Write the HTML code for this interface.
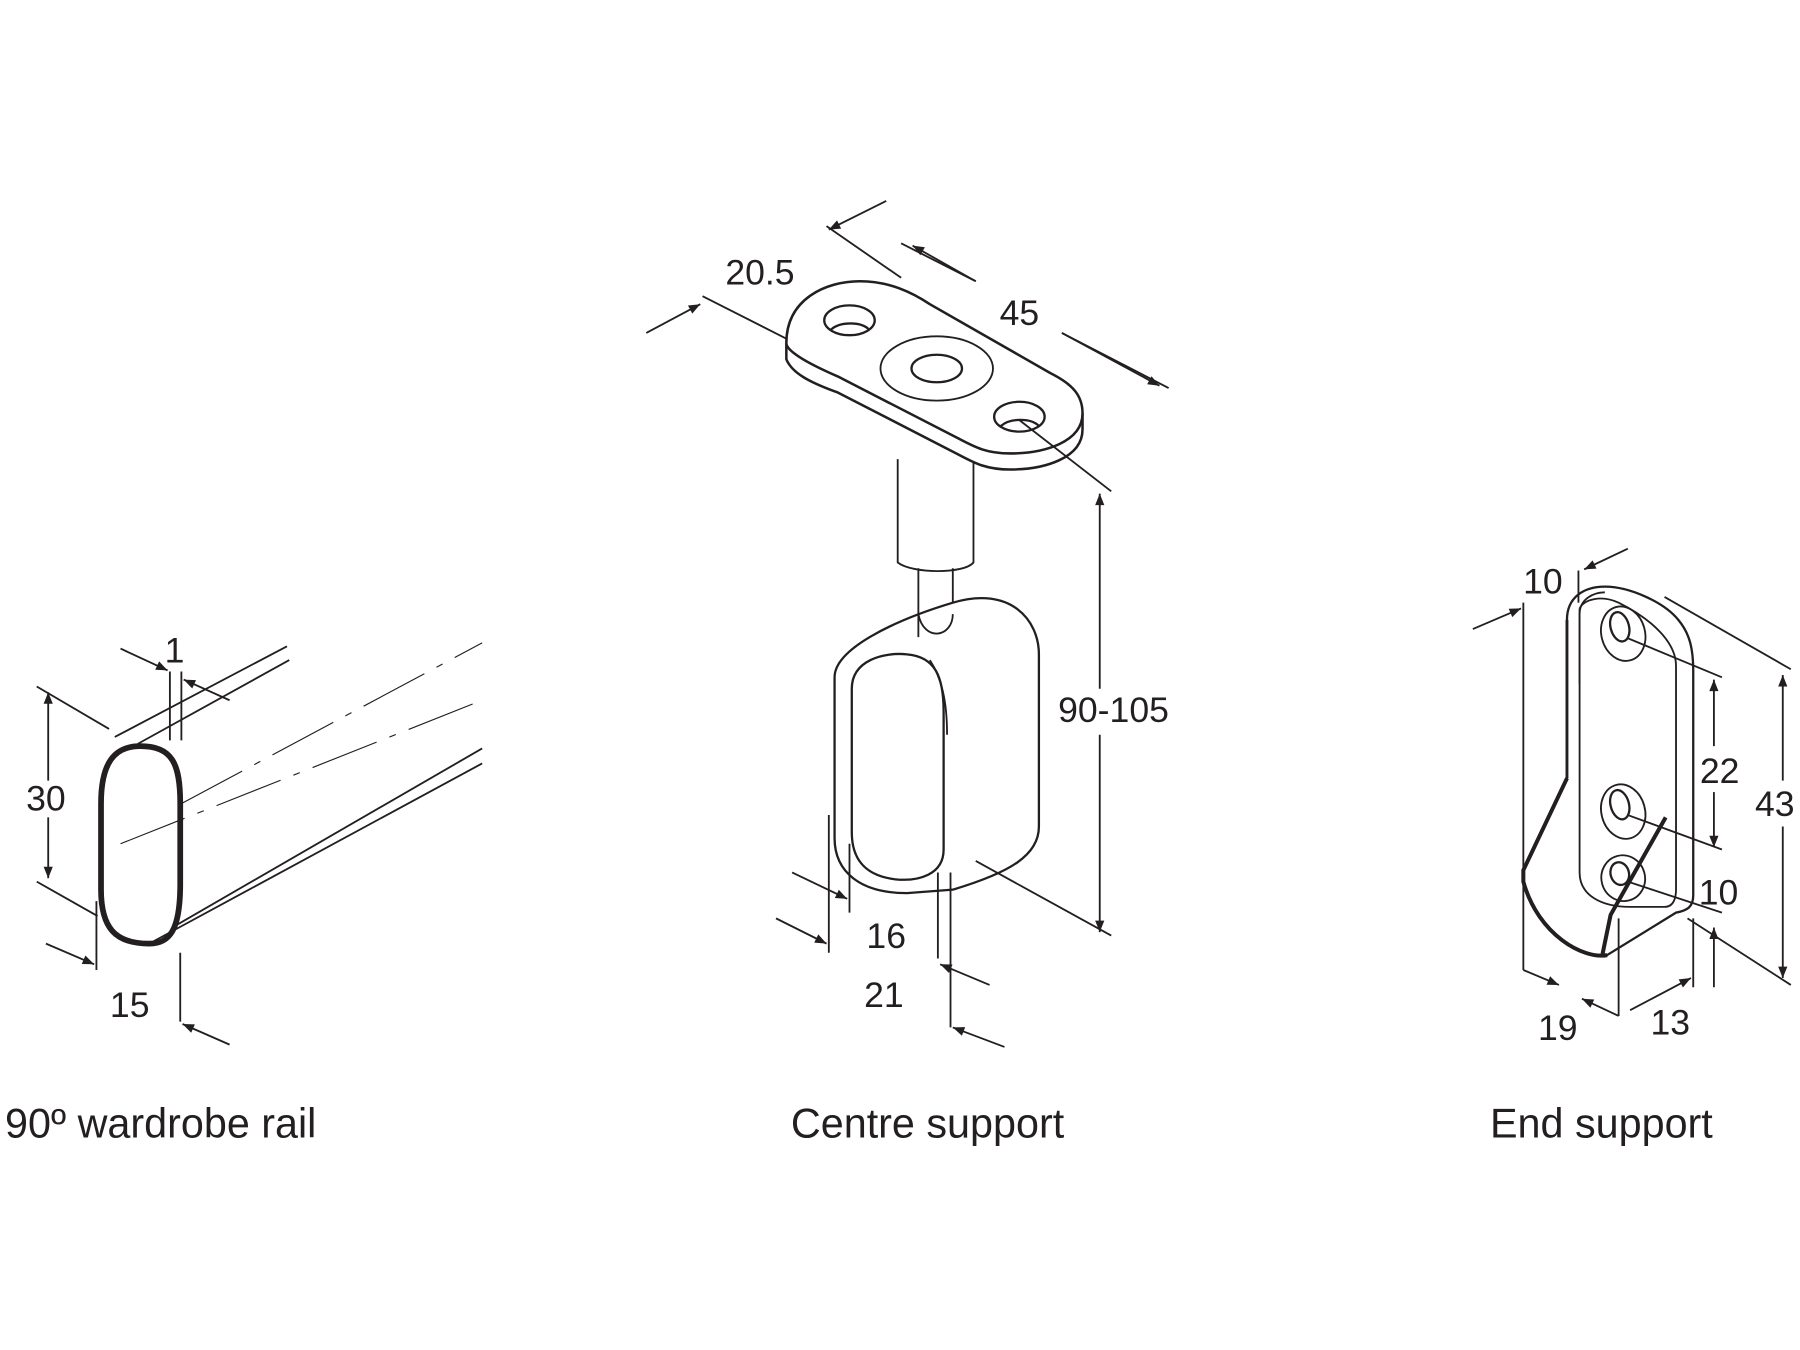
<!DOCTYPE html>
<html><head><meta charset="utf-8"><style>
html,body{margin:0;padding:0;background:#fff;}
svg{display:block}
text{font-family:"Liberation Sans",sans-serif;fill:#231f20;}
</style></head><body>
<svg width="1800" height="1350" viewBox="0 0 1568 1176" xmlns="http://www.w3.org/2000/svg">
<defs>
<marker id="a" viewBox="0 0 10 10" refX="10" refY="5" markerWidth="14" markerHeight="10" orient="auto-start-reverse" markerUnits="userSpaceOnUse"><path d="M0,1 L10,5 L0,9 z" fill="#231f20"/></marker>
</defs>
<g stroke="#231f20" fill="none" stroke-width="1.6">
<!-- RAIL -->
<path d="M122,650 C150,650 157,665 157,700 L157,770 C157,810 148,822 130,822 C100,822 88,808 88,775 L88,700 C88,664 100,650 122,650 Z" stroke-width="5"/>
<path d="M100,642 L250,563"/>
<path d="M120,648 L252,575"/>
<path d="M130,822 L420,665"/>
<path d="M150,808 L420,652"/>
<path d="M158,700 L420,560" stroke-dasharray="60,12,6,12" stroke-width="1"/>
<path d="M105,735 L420,610" stroke-dasharray="60,12,6,12" stroke-width="1"/>
<path d="M32,598 L95,635"/><path d="M32,768 L85,798"/>
<path d="M42,680 L42,603" marker-end="url(#a)"/><path d="M42,712 L42,765" marker-end="url(#a)"/>
<path d="M148,585 L148,645"/><path d="M158,585 L158,645"/>
<path d="M105,565 L146,584" marker-end="url(#a)"/><path d="M200,610 L160,592" marker-end="url(#a)"/>
<path d="M84,785 L84,845"/><path d="M157,830 L157,890"/>
<path d="M40,822 L82,840" marker-end="url(#a)"/><path d="M200,910 L159,892" marker-end="url(#a)"/>

<!-- CENTRE SUPPORT stem -->
<path d="M782,400 L782,490 C795,500 840,500 848,490 L848,400"/>
<path d="M800,495 L800,555"/><path d="M830,495 L830,550"/>
<!-- plate -->
<path d="M685,299 L685,313 C690,325 705,333 730,342 L835,396 C850,404 860,409 880,409 C910,409 943,399 943,374 L943,360" fill="#fff" stroke-width="2.2"/>
<path d="M685,299 C685,260 720,245 749,245 C775,245 795,255 810,265 L915,325 C935,335 943,345 943,360 C943,385 910,395 880,395 C860,395 850,390 835,382 L730,328 C700,315 685,305 685,299 Z" fill="#fff" stroke-width="2.2"/>
<ellipse cx="740" cy="279" rx="22" ry="13" stroke-width="2"/>
<path d="M724,287 C732,280 750,280 757,287" stroke-width="2"/>
<ellipse cx="816" cy="321" rx="49" ry="28"/>
<ellipse cx="816" cy="321" rx="22" ry="12" stroke-width="2"/>
<ellipse cx="888" cy="363" rx="22" ry="13" stroke-width="2"/>
<path d="M872,371 C880,364 898,364 905,371" stroke-width="2"/>
<!-- ring -->
<path d="M727,590 C727,565 780,540 830,525 C880,510 905,540 905,570 L905,720 C905,745 880,760 830,775 L790,778 C750,778 727,760 727,730 Z" fill="#fff" stroke-width="2"/>
<path d="M800,555 L800,535 C805,560 830,555 830,535"/>
<path d="M742,600 C742,575 770,568 790,570 C815,572 822,590 822,620 L822,740 C822,762 800,768 780,766 C755,763 742,750 742,725 Z" stroke-width="2"/>
<path d="M810,575 C820,590 825,610 825,640"/>
<!-- dims centre -->
<path d="M612,258 L685,295"/><path d="M720,197 L785,242"/>
<path d="M563,290 L610,265" marker-end="url(#a)"/><path d="M772,175 L722,200" marker-end="url(#a)"/>
<path d="M785,212 L850,245"/><path d="M925,290 L1018,338"/>
<path d="M850,245 L795,214" marker-end="url(#a)"/><path d="M925,290 L1010,336" marker-end="url(#a)"/>
<path d="M888,366 L968,428"/><path d="M850,750 L968,815"/>
<path d="M958,600 L958,430" marker-end="url(#a)"/><path d="M958,640 L958,812" marker-end="url(#a)"/>
<path d="M722,710 L722,830"/><path d="M740,735 L740,795"/>
<path d="M690,760 L738,783" marker-end="url(#a)"/><path d="M676,800 L720,822" marker-end="url(#a)"/>
<path d="M817,760 L817,835"/><path d="M828,760 L828,895"/>
<path d="M862,858 L819,840" marker-end="url(#a)"/><path d="M875,912 L830,895" marker-end="url(#a)"/>

<!-- END SUPPORT -->
<path d="M1365,540 C1365,520 1380,511 1398,511 C1420,511 1450,525 1462,540 C1472,552 1475,565 1475,585 L1475,780 C1475,790 1470,793 1460,795 L1400,832 C1380,836 1340,815 1327,768 L1327,758 L1365,678 Z" fill="#fff" stroke-width="2"/>
<path d="M1376,596 L1376,535 C1376,522 1388,516 1398,516"/>
<path d="M1376,530 L1376,760 C1376,780 1395,790 1420,790 L1450,790 C1458,790 1460,782 1460,775 L1460,580 C1460,560 1440,540 1410,525 C1395,518 1380,522 1376,530"/>
<ellipse cx="1414" cy="552" rx="19" ry="24" transform="rotate(-15 1414 552)"/><ellipse cx="1411" cy="546" rx="8" ry="13" transform="rotate(-15 1411 546)" stroke-width="2"/>
<ellipse cx="1414" cy="707" rx="19" ry="24" transform="rotate(-15 1414 707)"/><ellipse cx="1411" cy="701" rx="8" ry="13" transform="rotate(-15 1411 701)" stroke-width="2"/>
<ellipse cx="1414" cy="765" rx="19" ry="20" transform="rotate(-15 1414 765)"/><ellipse cx="1411" cy="761" rx="8" ry="10" transform="rotate(-15 1411 761)" stroke-width="2"/>
<path d="M1365,678 L1327,758 L1327,768 C1340,815 1380,836 1400,832" stroke-width="3.5"/>
<path d="M1451,712 L1403,797 L1396,831" stroke-width="3.5"/>
<path d="M1365,540 L1365,678" stroke-width="2.5"/>
<!-- dims end -->
<path d="M1327,525 L1327,845"/>
<path d="M1283,548 L1325,530" marker-end="url(#a)"/><path d="M1418,478 L1380,496" marker-end="url(#a)"/>
<path d="M1375,497 L1375,525"/>
<path d="M1450,520 L1560,583"/><path d="M1470,800 L1560,858"/>
<path d="M1553,680 L1553,588" marker-end="url(#a)"/><path d="M1553,720 L1553,852" marker-end="url(#a)"/>
<path d="M1418,556 L1500,590"/><path d="M1418,710 L1500,740"/>
<path d="M1493,650 L1493,592" marker-end="url(#a)"/><path d="M1493,690 L1493,738" marker-end="url(#a)"/>
<path d="M1418,768 L1500,795"/><path d="M1493,860 L1493,808" marker-end="url(#a)"/>
<path d="M1410,800 L1410,885"/><path d="M1475,800 L1475,860"/>
<path d="M1327,845 L1358,858" marker-end="url(#a)"/><path d="M1410,885 L1378,870" marker-end="url(#a)"/>
<path d="M1420,880 L1473,852" marker-end="url(#a)"/>
</g>
<g font-size="31">
<text x="152" y="577" text-anchor="middle">1</text>
<text x="40" y="706" text-anchor="middle">30</text>
<text x="113" y="886" text-anchor="middle">15</text>
<text x="662" y="248" text-anchor="middle">20.5</text>
<text x="888" y="283" text-anchor="middle">45</text>
<text x="970" y="629" text-anchor="middle">90-105</text>
<text x="772" y="826" text-anchor="middle">16</text>
<text x="770" y="877" text-anchor="middle">21</text>
<text x="1344" y="517" text-anchor="middle">10</text>
<text x="1498" y="682" text-anchor="middle">22</text>
<text x="1546" y="711" text-anchor="middle">43</text>
<text x="1497" y="788" text-anchor="middle">10</text>
<text x="1357" y="906" text-anchor="middle">19</text>
<text x="1455" y="901" text-anchor="middle">13</text>
</g>
<g font-size="36">
<text x="140" y="991" text-anchor="middle">90º wardrobe rail</text>
<text x="808" y="991" text-anchor="middle">Centre support</text>
<text x="1395" y="991" text-anchor="middle">End support</text>
</g>
</svg>
</body></html>
